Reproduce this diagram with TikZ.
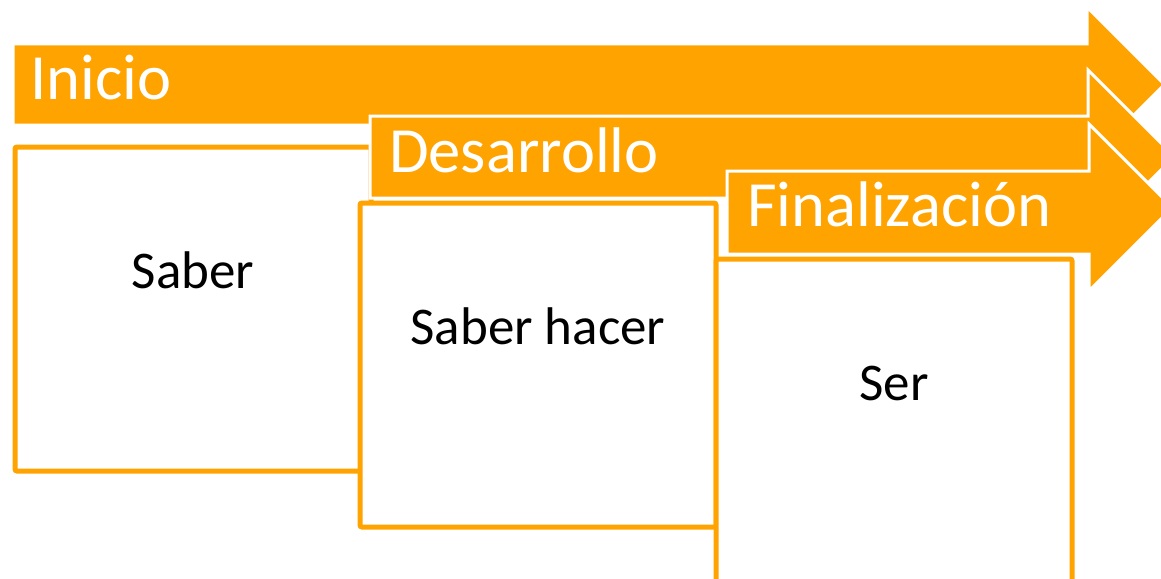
\documentclass[tikz,border=0pt]{standalone}
\usepackage{fontspec}
\setmainfont{Carlito}
\definecolor{naranja}{HTML}{FFA300}
\tikzset{
  flecha/.style={fill=naranja,draw=white,line width=3pt,line join=miter},
  caja/.style={draw=naranja,fill=white,line width=5pt,rounded corners=2pt,
    minimum width=356pt,minimum height=324pt,inner sep=0pt},
  titulo/.style={text=white,anchor=base west,inner sep=0pt,
    font=\fontsize{64.5}{72}\selectfont},
  texto/.style={text=black,anchor=base,inner sep=0pt,
    font=\fontsize{53}{60}\selectfont}
}
\begin{document}
\begin{tikzpicture}[x=1pt,y=-1pt]
    \useasboundingbox (0,0) rectangle (1161,578);
    \clip (0,0) rectangle (1161,578);
    % Inicio
    \draw[flecha] (13,44)--(1087,44)--(1087,7)--(1164.5,84.5)--(1087,162)--(1087,125)--(13,125)--cycle;
    \node[titulo] (inicio) at (30,99) {Inicio};
    \node[caja] (saber) at (193,309) {};
    \node[texto] (tsaber) at ([yshift=-144pt]saber.north) {Saber};
    % Desarrollo
    \draw[flecha] (370,116)--(1088,116)--(1088,70)--(1174.5,156.5)--(1088,243)--(1088,198)--(370,198)--cycle;
    \node[titulo] (desarrollo) at (389,172) {Desarrollo};
    \node[caja] (saberhacer) at (538,365) {};
    \node[texto] (tsaberhacer) at ([yshift=-144pt]saberhacer.north) {Saber hacer};
    % Finalizacion
    \draw[flecha] (727,171)--(1089,171)--(1089,124)--(1172.5,207.5)--(1089,291)--(1089,254)--(727,254)--cycle;
    \node[titulo] (finalizacion) at (747,226) {Finalización};
    \node[caja] (ser) at (894,421) {};
    \node[texto] (tser) at ([yshift=-144pt]ser.north) {Ser};
  \end{tikzpicture}
\end{document}
